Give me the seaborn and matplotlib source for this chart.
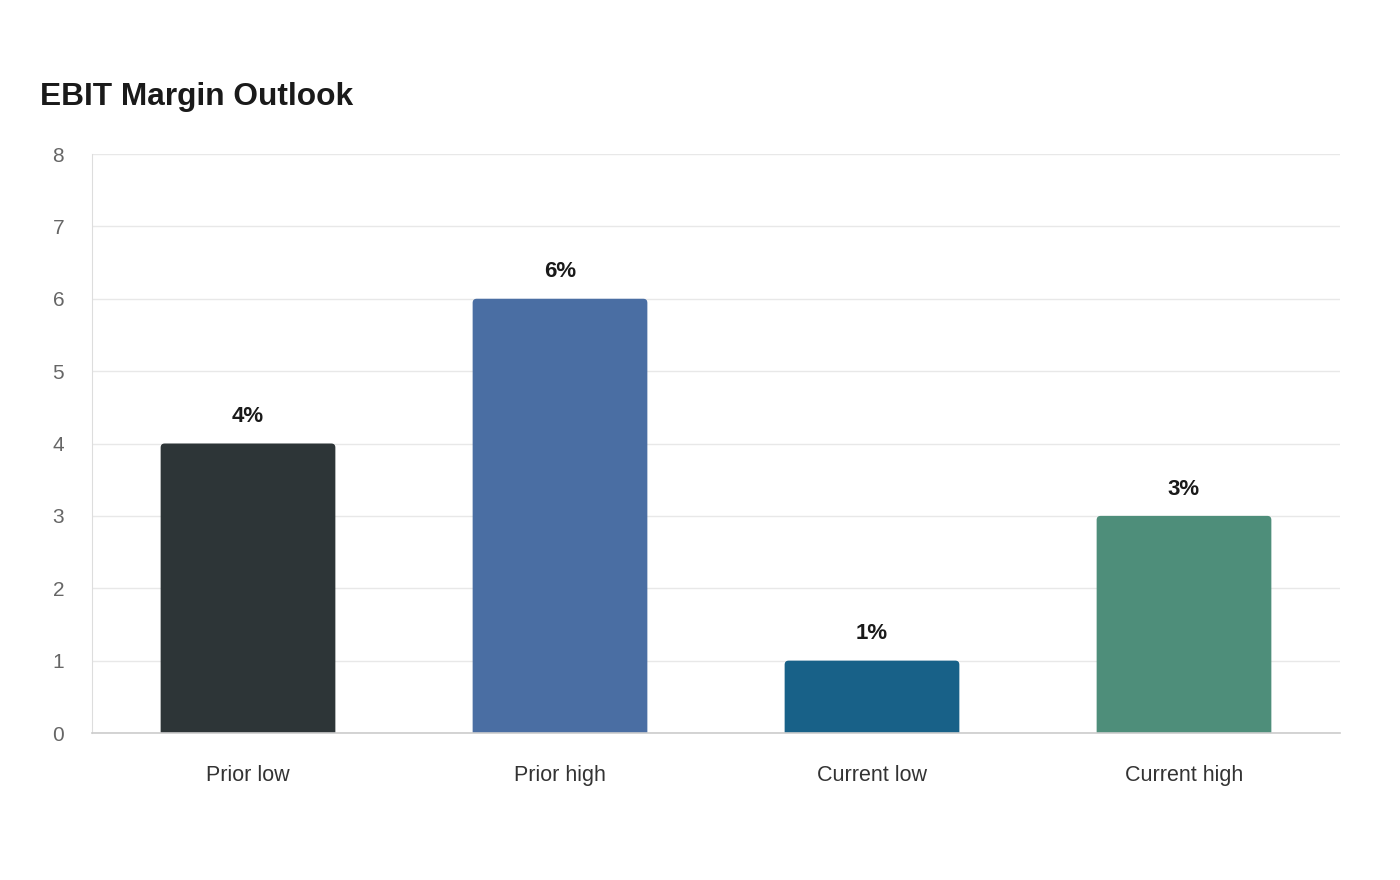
import matplotlib
matplotlib.use("Agg")
import matplotlib.pyplot as plt
from matplotlib.patches import FancyBboxPatch
import seaborn as sns
import pandas as pd

# ---------- data ----------
categories = ["Prior low", "Prior high", "Current low", "Current high"]
margins = [4, 6, 1, 3]
bar_colors = ["#2d3537", "#4a6ea3", "#186188", "#4e8e7a"]

df = pd.DataFrame({"Scenario": categories, "Margin": margins})

sns.set_style("white")
plt.rcParams["font.family"] = ["Liberation Sans", "DejaVu Sans"]

fig = plt.figure(figsize=(14, 8.8), dpi=100)
ax = fig.add_axes([92 / 1400, 1 - 733 / 880, 1248 / 1400, 579 / 880])

sns.barplot(data=df, x="Scenario", y="Margin", hue="Scenario",
            palette=bar_colors, width=0.56, saturation=1, legend=False, ax=ax)

# swap the plain bars for ones with slightly rounded tops
r = 0.013  # rounding in x data units (~4 px)
for p in list(ax.patches):
    x0, w, h = p.get_x(), p.get_width(), p.get_height()
    fb = FancyBboxPatch((x0, -0.1), w, h + 0.1,
                        boxstyle=f"round,pad=0,rounding_size={r}",
                        mutation_aspect=4.3, facecolor=p.get_facecolor(),
                        edgecolor="none", zorder=p.get_zorder())
    p.remove()
    ax.add_patch(fb)

# value labels above bars
for i, v in enumerate(margins):
    ax.text(i, v + 0.37, f"{v}%", ha="center", va="center",
            fontsize=16, fontweight="bold", color="#1a1a1a")

ax.set_xlim(-0.5, 3.5)
ax.set_ylim(0, 8)
ax.set_yticks(range(0, 9))
ax.set_xlabel("")
ax.set_ylabel("")

ax.grid(axis="y", color="#e8e8e8", linewidth=1)
ax.set_axisbelow(True)
ax.tick_params(axis="y", length=11.5, color="#e8e8e8", labelsize=15,
               labelcolor="#666666", pad=8.5)
ax.tick_params(axis="x", length=0, labelsize=15.5, labelcolor="#333333", pad=23)

for s in ["top", "right"]:
    ax.spines[s].set_visible(False)
ax.spines["left"].set_color("#dddddd")
ax.spines["left"].set_linewidth(0.8)
ax.spines["bottom"].set_color("#cccccc")
ax.spines["bottom"].set_linewidth(1.2)
ax.spines["bottom"].set_zorder(5)

fig.text(40 / 1400, 1 - 97 / 880, "EBIT Margin Outlook", fontsize=22.8,
         fontweight="bold", color="#1a1a1a", va="center", ha="left")

fig.savefig("out.png", dpi=100, facecolor="white")
